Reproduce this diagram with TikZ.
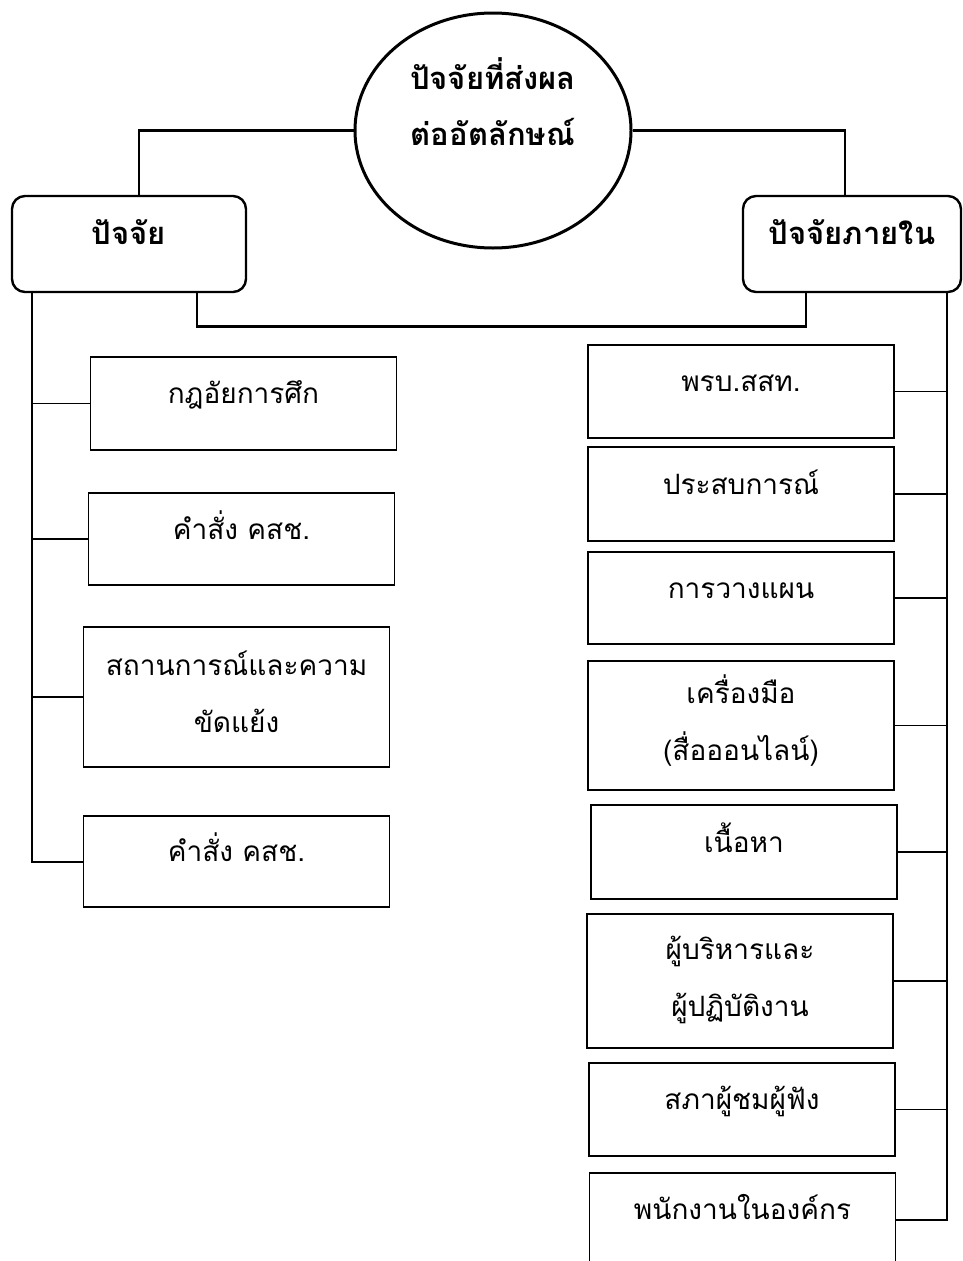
\documentclass[tikz,border=0pt]{standalone}
\usepackage{fontspec}
\usetikzlibrary{shapes.geometric}
\newfontfamily\thaifont[Script=Thai]{Loma}
\newcommand{\boxfont}{\thaifont\fontsize{28}{57}\selectfont}
\newcommand{\headfont}{\thaifont\bfseries\fontsize{31}{56}\selectfont}
\begin{document}
\begin{tikzpicture}[x=1pt,y=-1pt,
  hub/.style={ellipse,draw,line width=3pt,inner sep=0pt,font=\headfont,align=center},
  headbox/.style={draw,line width=2.4pt,rounded corners=13pt,inner sep=0pt,font=\headfont,text height=16pt,text depth=16pt},
  cbox/.style={draw,line width=1.8pt,minimum width=306pt,inner sep=0pt,font=\boxfont,align=center,text height=16pt,text depth=16pt},
  cboxtwo/.style={cbox,text height=86pt},
  link/.style={line width=2.8pt},
  stem/.style={line width=2pt},
  twig/.style={line width=1.6pt}]
\useasboundingbox (0,0) rectangle (963,1261);
% centre and the two groups
\node[hub,minimum width=276pt,minimum height=235pt,text height=45pt,text depth=16pt] (core) at (493,130.5) {ปัจจัยที่ส่งผล\\ต่ออัตลักษณ์};
\node[headbox,minimum width=234pt,minimum height=96pt] (lhead) at (129,244) {ปัจจัย};
\node[headbox,minimum width=218pt,minimum height=96pt] (rhead) at (852,244) {ปัจจัยภายใน};
\draw[link] (core.west) -| ([xshift=10pt]lhead.north);
\draw[link] (core.east) -| ([xshift=-7pt]rhead.north);
\draw[link] ([xshift=68pt]lhead.south) -- ++(0,33) -| ([xshift=-46pt]rhead.south);
% left column
\node[cbox,minimum height=93pt] (l1) at (243.5,403.5) {กฎอัยการศึก};
\node[cbox,minimum height=92pt] (l2) at (241.5,539) {คำสั่ง คสช.};
\node[cboxtwo,minimum height=140pt] (l3) at (236.5,697) {สถานการณ์และความ\\ขัดแย้ง};
\node[cbox,minimum height=91pt] (l4) at (236.5,861.5) {คำสั่ง คสช.};
\coordinate (ltop) at ([xshift=21pt]lhead.south west);
\draw[stem] (ltop) |- (l4.west);
\foreach \n in {l1,l2,l3}
{
\draw[twig] (\n.west) -- (\n.west -| ltop);
}
% right column
\node[cbox,minimum height=93pt] (r1) at (741,391.5) {พรบ.สสท.};
\node[cbox,minimum height=94pt] (r2) at (741,494) {ประสบการณ์};
\node[cbox,minimum height=92pt] (r3) at (741,598) {การวางแผน};
\node[cboxtwo,minimum height=129pt] (r4) at (741,725.5) {เครื่องมือ\\(สื่อออนไลน์)};
\node[cbox,minimum height=94pt] (r5) at (744,852) {เนื้อหา};
\node[cboxtwo,minimum height=134pt] (r6) at (740,981) {ผู้บริหารและ\\ผู้ปฏิบัติงาน};
\node[cbox,minimum height=93pt] (r7) at (742,1109.5) {สภาผู้ชมผู้ฟัง};
\node[cbox,minimum height=93pt] (r8) at (742.5,1219.5) {พนักงานในองค์กร};
\coordinate (rtop) at ([xshift=-15pt]rhead.south east);
\draw[stem] (rtop) |- (r8.east);
\foreach \n in {r1,r2,r3,r4,r5,r6,r7}
{
\draw[twig] (\n.east) -- (\n.east -| rtop);
}
\end{tikzpicture}
\end{document}
